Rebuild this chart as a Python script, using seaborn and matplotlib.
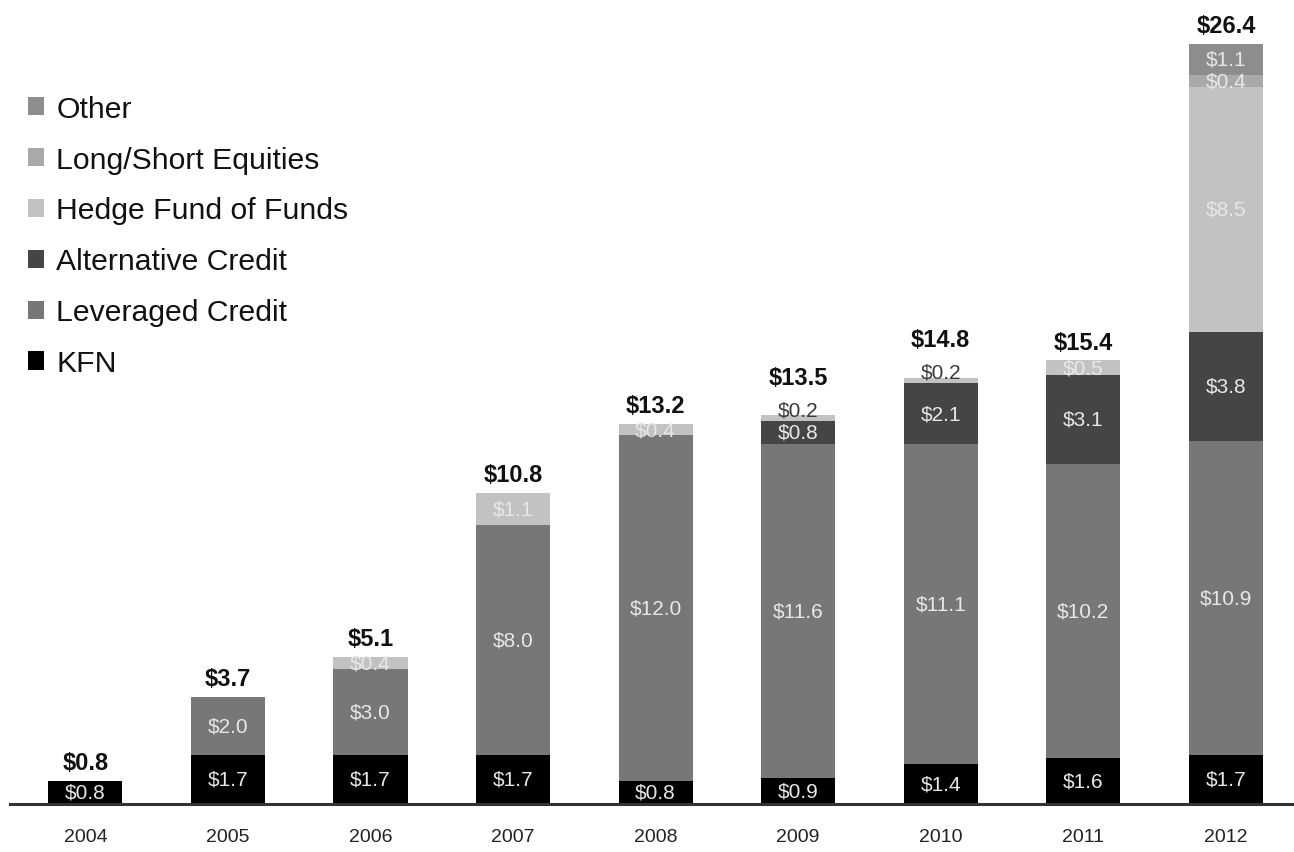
import matplotlib
matplotlib.use("Agg")
import matplotlib.pyplot as plt
import seaborn as sns
from matplotlib.patches import Patch

years = ["2004", "2005", "2006", "2007", "2008", "2009", "2010", "2011", "2012"]
kfn = [0.8, 1.7, 1.7, 1.7, 0.8, 0.9, 1.4, 1.6, 1.7]
leveraged_credit = [0, 2.0, 3.0, 8.0, 12.0, 11.6, 11.1, 10.2, 10.9]
alternative_credit = [0, 0, 0, 0, 0, 0.8, 2.1, 3.1, 3.8]
hedge_fund_of_funds = [0, 0, 0.4, 1.1, 0.4, 0.2, 0.2, 0.5, 8.5]
long_short_equities = [0, 0, 0, 0, 0, 0, 0, 0, 0.4]
other = [0, 0, 0, 0, 0, 0, 0, 0, 1.1]
totals = [0.8, 3.7, 5.1, 10.8, 13.2, 13.5, 14.8, 15.4, 26.4]

series = [
    ("KFN", kfn, "#000000"),
    ("Leveraged Credit", leveraged_credit, "#777777"),
    ("Alternative Credit", alternative_credit, "#454545"),
    ("Hedge Fund of Funds", hedge_fund_of_funds, "#c2c2c2"),
    ("Long/Short Equities", long_short_equities, "#a9a9a9"),
    ("Other", other, "#8d8d8d"),
]

sns.set_theme(style="white")
plt.rcParams["font.family"] = ["Liberation Sans", "DejaVu Sans"]

fig = plt.figure(figsize=(12.94, 8.53), dpi=100)
ax = fig.add_axes([0.008, 0.0563, 0.992, 0.9437])

bottom = [0.0] * len(years)
small_top = [False] * len(years)
for name, vals, color in series:
    sns.barplot(x=years, y=vals, bottom=bottom, color=color, width=0.52,
                saturation=1, errorbar=None, ax=ax, linewidth=0)
    cont = ax.containers[-1]
    big = [f"${v:.1f}" if v >= 0.3 else "" for v in vals]
    ax.bar_label(cont, labels=big, label_type="center", color="#e8e8e8",
                 fontsize=15)
    small = [f"${v:.1f}" if 0 < v < 0.3 else "" for v in vals]
    ax.bar_label(cont, labels=small, label_type="edge", padding=-3,
                 color="#3a3a3a", fontsize=15)
    small_top = [s or (0 < v < 0.3) for s, v in zip(small_top, vals)]
    bottom = [b + v for b, v in zip(bottom, vals)]

# totals above each stack; lifted where a small segment label sits on top
last = ax.containers[-1]
ax.bar_label(last, labels=[f"${t:.1f}" if not s else ""
                           for t, s in zip(totals, small_top)],
             label_type="edge", padding=5, fontsize=17, fontweight="bold",
             color="#111111")
ax.bar_label(last, labels=[f"${t:.1f}" if s else ""
                           for t, s in zip(totals, small_top)],
             label_type="edge", padding=19, fontsize=17, fontweight="bold",
             color="#111111")

ax.set_xlim(-0.526, 8.478)
ax.set_ylim(0, 27.95)
ax.set_yticks([])
ax.set_xlabel("")
ax.set_ylabel("")
for s in ["top", "right", "left"]:
    ax.spines[s].set_visible(False)
ax.spines["bottom"].set_color("#333333")
ax.spines["bottom"].set_linewidth(2.2)
ax.tick_params(axis="x", length=0, pad=17, labelsize=14, colors="#222222")

handles = [Patch(facecolor=c, edgecolor="none") for _, _, c in series][::-1]
labels = [n for n, _, _ in series][::-1]
fig.legend(handles, labels, loc="upper left", bbox_to_anchor=(0.012, 0.902),
           frameon=False, fontsize=21.7, handlelength=0.55, handleheight=0.55,
           handletextpad=0.4, labelspacing=0.76, borderaxespad=0,
           labelcolor="#111111")

fig.savefig("out.png", dpi=100)
